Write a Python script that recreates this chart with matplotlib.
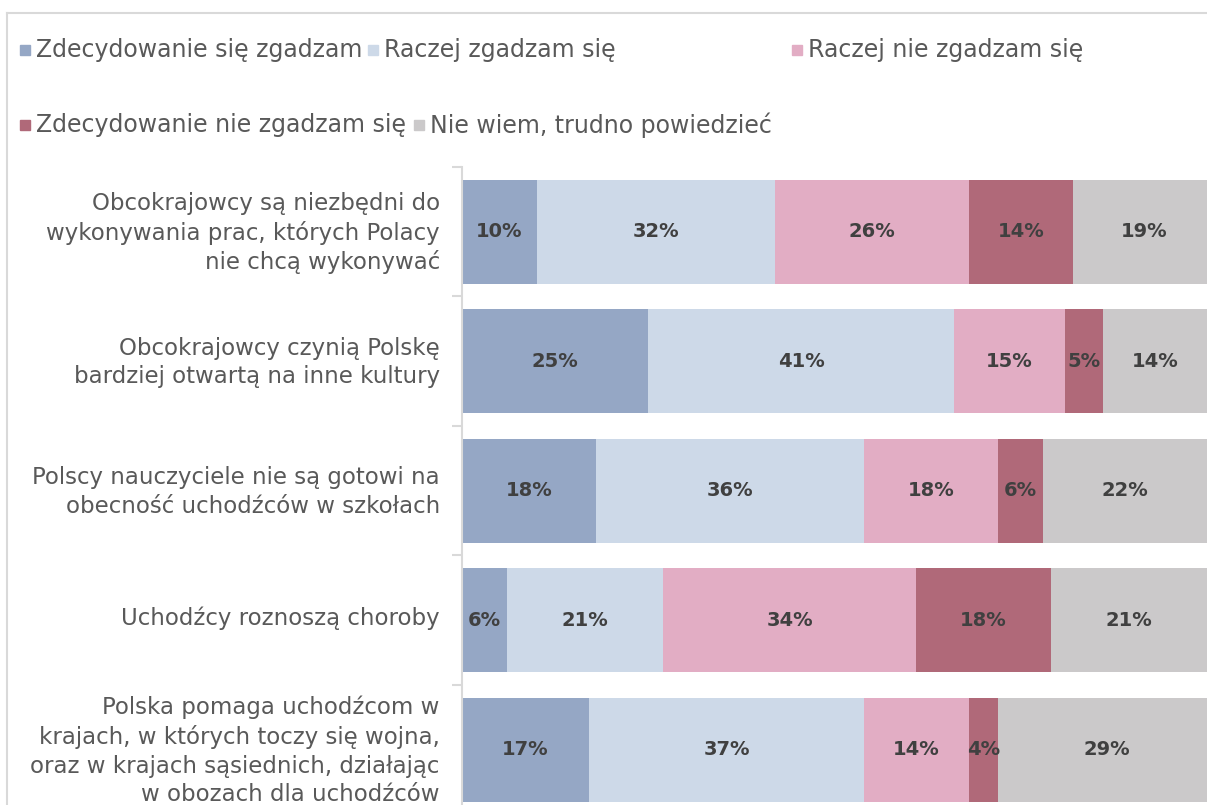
import numpy as np
import matplotlib.pyplot as plt
import matplotlib.transforms as mtransforms
from matplotlib.lines import Line2D
from matplotlib.patches import Rectangle

categories = [
    'Obcokrajowcy są niezbędni do\nwykonywania prac, których Polacy\nnie chcą wykonywać',
    'Obcokrajowcy czynią Polskę\nbardziej otwartą na inne kultury',
    'Polscy nauczyciele nie są gotowi na\nobecność uchodźców w szkołach',
    'Uchodźcy roznoszą choroby',
    'Polska pomaga uchodźcom w\nkrajach, w których toczy się wojna,\noraz w krajach sąsiednich, działając\nw obozach dla uchodźców',
]
series = ['Zdecydowanie się zgadzam', 'Raczej zgadzam się', 'Raczej nie zgadzam się',
          'Zdecydowanie nie zgadzam się', 'Nie wiem, trudno powiedzieć']
zdecydowanie_tak = [10, 25, 18, 6, 17]
raczej_tak = [32, 41, 36, 21, 37]
raczej_nie = [26, 15, 18, 34, 14]
zdecydowanie_nie = [14, 5, 6, 18, 4]
nie_wiem = [19, 14, 22, 21, 29]

colors = ['#95a7c5', '#cdd9e8', '#e2adc4', '#b06979', '#cbc9ca']
text_col = '#595959'

W, H = 1207, 805
fig = plt.figure(figsize=(W / 100, H / 100), dpi=100)
ax = fig.add_axes([462 / W, 1 - 814.5 / H, 1 - 462 / W, (814.5 - 167) / H])

values = [zdecydowanie_tak, raczej_tak, raczej_nie, zdecydowanie_nie, nie_wiem]
y = np.arange(len(categories))
left = np.zeros(len(categories))
for vals, col in zip(values, colors):
    vals = np.array(vals, dtype=float)
    ax.barh(y, vals, left=left, height=0.8, color=col)
    for yi, (l, v) in enumerate(zip(left, vals)):
        ax.text(l + v / 2, yi, f'{int(v)}%', ha='center', va='center',
                fontsize=14, fontweight='bold', color='#404040')
    left += vals

ax.set_xlim(0, 100)
ax.set_ylim(len(categories) - 0.5, -0.5)
ax.set_yticks(y)
ax.set_yticklabels(categories, fontsize=16.5, color=text_col, linespacing=1.3)
ax.set_yticks(np.arange(len(categories)) - 0.5, minor=True)
ax.tick_params(axis='y', which='major', length=0, pad=16)
ax.tick_params(axis='y', which='minor', length=7, width=1.5, color='#d9d9d9')
ax.set_xticks([])
for s in ['top', 'right', 'bottom']:
    ax.spines[s].set_visible(False)
ax.spines['left'].set_color('#d9d9d9')
ax.spines['left'].set_linewidth(1.5)

# nudge category labels up a little, as in the original
shift = mtransforms.ScaledTranslation(0, 4 / 100, fig.dpi_scale_trans)
for lab in ax.get_yticklabels():
    lab.set_transform(lab.get_transform() + shift)

# outer chart border (cropped)
fig.add_artist(Line2D([7 / W, 1], [1 - 13 / H, 1 - 13 / H], color='#d9d9d9', lw=1.5))
fig.add_artist(Line2D([7 / W, 7 / W], [0, 1 - 13 / H], color='#d9d9d9', lw=1.5))

# legend laid out like the original
legend_pos = [(20, 50), (368, 50), (792, 50), (20, 125), (414, 125)]
for name, col, (px, py) in zip(series, colors, legend_pos):
    fig.add_artist(Rectangle((px / W, 1 - (py + 5) / H), 10 / W, 10 / H,
                             color=col, transform=fig.transFigure))
    fig.text((px + 16) / W, 1 - py / H, name, fontsize=17, color=text_col,
             va='center', ha='left')

plt.savefig('out.png', dpi=100)
